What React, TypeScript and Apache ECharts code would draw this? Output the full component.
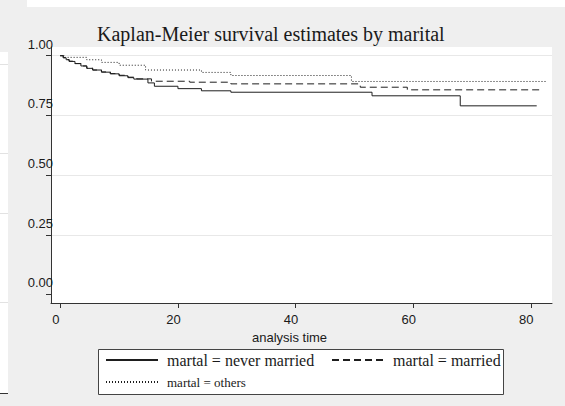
import { useEffect, useRef } from "react";
import * as echarts from "echarts";

const chartTitle = "Kaplan-Meier survival estimates by marital";
const xAxisName = "analysis time";
const xTicks = [0, 20, 40, 60, 80];
const yTicks = [0, 0.25, 0.5, 0.75, 1];
const groupNames = ["martal = never married", "martal = married", "martal = others"];

// [analysis time, survival estimate], one step per row
const neverMarried: [number, number][] = [
  [0, 1], [0.5, 0.991], [1, 0.983], [1.5, 0.976], [2.5, 0.967], [3.5, 0.957],
  [4.5, 0.947], [5.5, 0.94], [7, 0.931], [8.5, 0.924], [10, 0.916], [11.5, 0.908],
  [12.5, 0.902], [14.9, 0.886], [16, 0.872], [20, 0.862], [24, 0.853], [29, 0.847],
  [53, 0.832], [68, 0.79], [81, 0.79],
];
const married: [number, number][] = [
  [0, 1], [0.5, 0.992], [1, 0.984], [1.5, 0.977], [2.5, 0.967], [3.5, 0.957],
  [4.5, 0.948], [5.5, 0.94], [7, 0.932], [8.5, 0.925], [10, 0.918], [11.5, 0.91],
  [13, 0.903], [15.5, 0.893], [22, 0.889], [29, 0.882], [51, 0.868], [59, 0.857],
  [81.5, 0.857],
];
const others: [number, number][] = [
  [0, 1], [0.8, 0.993], [4.5, 0.983], [7, 0.972], [10, 0.96], [14.5, 0.94],
  [24, 0.93], [29, 0.917], [49.5, 0.892], [82.5, 0.892],
];

const lineColor = "#1e1e1e";
const sans = "Liberation Sans";
const serif = "Liberation Serif";

export default function App() {
  const ref = useRef<HTMLDivElement>(null);

  useEffect(() => {
    if (!ref.current) return;
    const chart = echarts.init(ref.current, undefined, { renderer: "svg" });

    // legend keys show the line pattern only, no marker
    const legendBase = {
      itemWidth: 52,
      itemHeight: 16,
      padding: 0,
      selectedMode: false,
      orient: "horizontal" as const,
      itemStyle: { opacity: 0 },
    };

    const option: any = {
      animation: false,
      backgroundColor: "#efefef",
      title: {
        text: chartTitle,
        left: 97,
        top: 24,
        padding: 0,
        textStyle: {
          fontFamily: serif,
          fontSize: 20,
          fontWeight: "normal",
          color: "#1a1a1a",
        },
      },
      grid: {
        left: 51,
        right: 13,
        top: 47,
        bottom: 103,
        show: true,
        backgroundColor: "#ffffff",
        borderWidth: 0,
      },
      xAxis: {
        type: "value",
        min: -1.58,
        max: 83.6,
        name: xAxisName,
        nameLocation: "middle",
        nameGap: 19,
        nameTextStyle: {
          fontFamily: sans,
          fontSize: 13,
          color: "#1a1a1a",
          padding: [0, 24, 0, 0],
        },
        axisLine: { show: true, onZero: false, lineStyle: { color: "#333", width: 1 } },
        axisTick: { show: true, length: 5, customValues: xTicks, lineStyle: { color: "#333" } },
        axisLabel: {
          customValues: xTicks,
          margin: 10,
          fontFamily: sans,
          fontSize: 13,
          color: "#1a1a1a",
          padding: [0, 9, 0, 0],
        },
        splitLine: { show: false },
      },
      yAxis: {
        type: "value",
        min: -0.0356,
        max: 1.0364,
        axisLine: { show: true, onZero: false, lineStyle: { color: "#333", width: 1 } },
        axisTick: { show: true, length: 5, customValues: yTicks, lineStyle: { color: "#333" } },
        axisLabel: {
          customValues: yTicks,
          formatter: (v: number) => v.toFixed(2),
          margin: -2,
          verticalAlign: "bottom",
          padding: [0, 0, 5, 0],
          fontFamily: sans,
          fontSize: 13,
          color: "#1a1a1a",
        },
        splitLine: {
          show: true,
          lineStyle: {
            color: ["rgba(0,0,0,0)", "#e8e8e8", "#e8e8e8", "#e8e8e8", "#e8e8e8"],
            width: 1,
          },
        },
      },
      legend: [
        {
          ...legendBase,
          data: [groupNames[0]],
          left: 105,
          top: 352,
          textStyle: { fontFamily: serif, fontSize: 16, lineHeight: 16, color: "#1a1a1a", padding: [0, 0, 0, 4] },
        },
        {
          ...legendBase,
          data: [groupNames[1]],
          left: 331,
          top: 352,
          textStyle: { fontFamily: serif, fontSize: 16, lineHeight: 16, color: "#1a1a1a", padding: [0, 0, 0, 4] },
        },
        {
          ...legendBase,
          data: [groupNames[2]],
          left: 105,
          top: 374,
          textStyle: { fontFamily: serif, fontSize: 13, lineHeight: 16, color: "#1a1a1a", padding: [0, 0, 0, 4] },
        },
      ],
      graphic: [
        // window strips around the graph
        { type: "rect", shape: { x: 27, y: 0, width: 538, height: 7 }, style: { fill: "#ffffff" }, silent: true },
        { type: "rect", shape: { x: 0, y: 52, width: 8, height: 341 }, style: { fill: "#ffffff" }, silent: true },
        { type: "line", shape: { x1: 0, y1: 64.5, x2: 8, y2: 64.5 }, style: { stroke: "#e2e2e2", lineWidth: 1 }, silent: true },
        { type: "line", shape: { x1: 0, y1: 153.5, x2: 8, y2: 153.5 }, style: { stroke: "#e2e2e2", lineWidth: 1 }, silent: true },
        { type: "line", shape: { x1: 0, y1: 213.5, x2: 8, y2: 213.5 }, style: { stroke: "#e2e2e2", lineWidth: 1 }, silent: true },
        { type: "line", shape: { x1: 0, y1: 302.5, x2: 8, y2: 302.5 }, style: { stroke: "#e2e2e2", lineWidth: 1 }, silent: true },
        { type: "line", shape: { x1: 0, y1: 393.5, x2: 8, y2: 393.5 }, style: { stroke: "#333333", lineWidth: 1 }, silent: true },
        // legend frame
        {
          type: "rect",
          shape: { x: 98.5, y: 349.5, width: 405, height: 45 },
          style: { fill: "#ffffff", stroke: "#444444", lineWidth: 1 },
          silent: true,
        },
      ],
      series: [
        {
          name: groupNames[0],
          type: "line",
          step: "end",
          data: neverMarried,
          symbol: "none",
          lineStyle: { color: lineColor, width: 1, type: "solid" },
          itemStyle: { color: lineColor },
        },
        {
          name: groupNames[1],
          type: "line",
          step: "end",
          data: married,
          symbol: "none",
          lineStyle: { color: lineColor, width: 1, type: [7, 4] },
          itemStyle: { color: lineColor },
        },
        {
          name: groupNames[2],
          type: "line",
          step: "end",
          data: others,
          symbol: "none",
          lineStyle: { color: lineColor, width: 1, type: [1, 2] },
          itemStyle: { color: lineColor },
        },
      ],
    };

    chart.setOption(option);
    return () => chart.dispose();
  }, []);

  return (
    <div
      ref={ref}
      style={{ position: "fixed", left: 0, top: 0, width: 565, height: 406 }}
    />
  );
}
